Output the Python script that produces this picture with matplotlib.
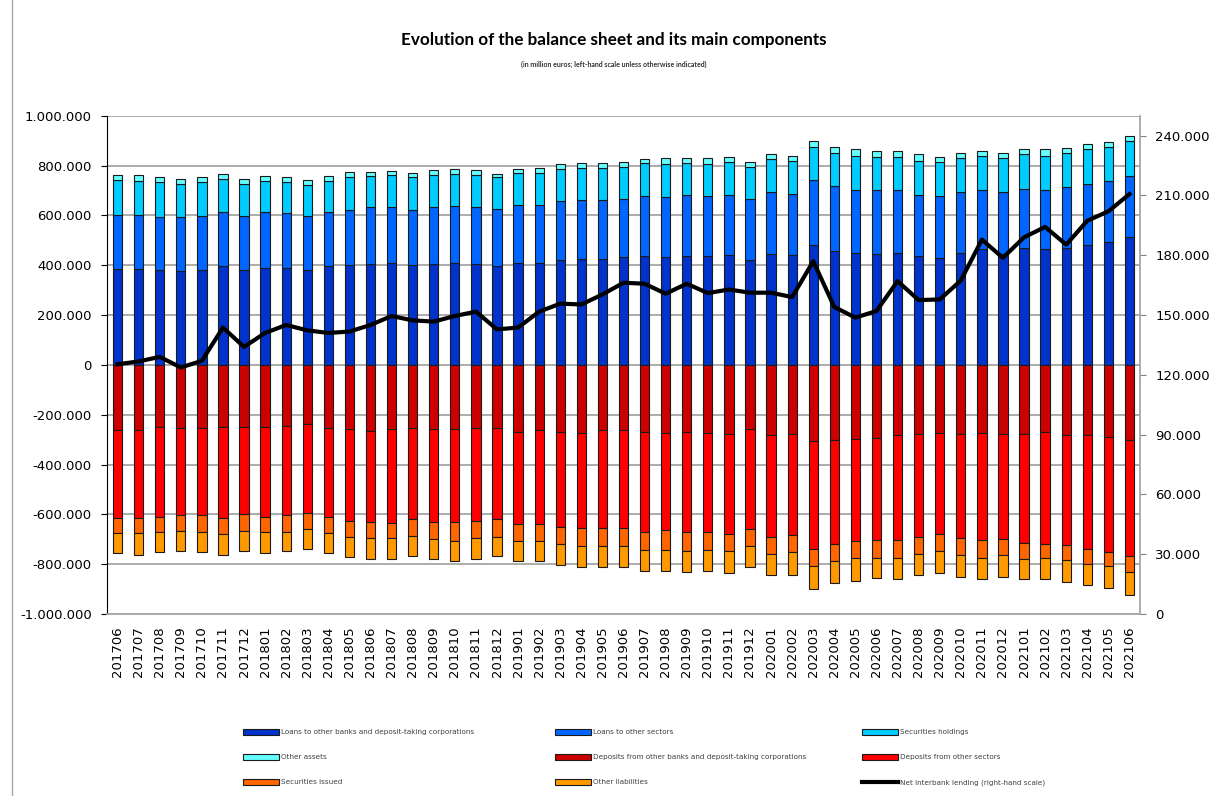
import numpy as np
import matplotlib.pyplot as plt
from matplotlib.lines import Line2D
from matplotlib.ticker import FuncFormatter

# month labels (yyyymm)
periods = [
    "201706", "201707", "201708", "201709", "201710", "201711", "201712",
    "201801", "201802", "201803", "201804", "201805", "201806", "201807",
    "201808", "201809", "201810", "201811", "201812",
    "201901", "201902", "201903", "201904", "201905", "201906", "201907",
    "201908", "201909", "201910", "201911", "201912",
    "202001", "202002", "202003", "202004", "202005", "202006", "202007",
    "202008", "202009", "202010", "202011", "202012",
    "202101", "202102", "202103", "202104", "202105", "202106",
]

# assets, thousand million euros (left-hand scale)
loans_banks = [385, 385, 380, 375, 380, 395, 380, 389, 389, 380, 395, 400, 405, 409,
               400, 405, 409, 405, 395, 409, 409, 420, 425, 425, 431, 435, 431, 435,
               435, 440, 420, 445, 440, 483, 457, 449, 445, 449, 435, 429, 449, 463,
               445, 469, 463, 469, 483, 493, 513]
loans_other = [218, 218, 212, 217, 217, 217, 217, 223, 219, 217, 217, 223, 227, 223,
               223, 227, 228, 227, 232, 234, 234, 237, 238, 238, 236, 242, 241, 248,
               242, 243, 247, 247, 247, 258, 260, 252, 256, 252, 246, 248, 243, 238,
               247, 238, 238, 243, 244, 244, 243]
securities_held = [140, 133, 140, 135, 135, 135, 130, 125, 124, 126, 125, 129, 125, 131,
                   129, 131, 130, 131, 125, 129, 129, 128, 128, 128, 129, 134, 135, 128,
                   130, 133, 128, 133, 133, 135, 134, 139, 135, 135, 139, 138, 137, 139,
                   137, 138, 139, 137, 138, 138, 143]
other_assets = [20, 27, 20, 20, 20, 20, 20, 19, 20, 20, 20, 24, 19, 14,
                20, 20, 20, 20, 15, 13, 19, 20, 18, 18, 20, 14, 22, 18,
                22, 20, 21, 20, 20, 24, 25, 25, 24, 24, 25, 21, 22, 20,
                22, 20, 25, 20, 20, 21, 21]

# liabilities, thousand million euros (plotted below zero)
deposits_banks = [260, 260, 248, 253, 253, 248, 248, 248, 244, 239, 253, 259, 264, 259,
                  253, 259, 259, 253, 253, 268, 263, 268, 273, 263, 263, 268, 273, 268,
                  273, 277, 259, 283, 277, 307, 301, 297, 293, 283, 277, 273, 277, 273,
                  277, 277, 268, 283, 283, 288, 301]
deposits_other = [356, 356, 361, 351, 351, 367, 352, 361, 360, 357, 356, 366, 367, 376,
                  367, 372, 372, 372, 367, 371, 376, 381, 382, 392, 392, 401, 391, 401,
                  396, 400, 401, 406, 407, 432, 418, 412, 411, 421, 412, 406, 418, 431,
                  422, 438, 451, 441, 456, 465, 468]
securities_issued = [59, 59, 60, 61, 67, 64, 65, 60, 65, 64, 66, 64, 64, 60,
                     65, 69, 74, 70, 69, 70, 70, 70, 74, 74, 74, 75, 80, 80,
                     75, 72, 69, 70, 69, 69, 69, 66, 71, 71, 70, 70, 69, 71,
                     65, 64, 56, 60, 60, 55, 64]
other_liabilities = [82, 89, 84, 83, 82, 84, 83, 88, 79, 79, 82, 84, 84, 84,
                     83, 79, 83, 84, 79, 79, 79, 84, 84, 84, 84, 83, 83, 84,
                     83, 88, 83, 84, 90, 93, 89, 92, 82, 86, 84, 88, 88, 86,
                     88, 82, 86, 88, 84, 89, 90]

# net interbank lending, thousand million euros (right-hand scale)
net_interbank = [125.3, 126.7, 129.0, 123.7, 127.0, 143.7, 134.0, 141.0, 145.0, 142.3,
                 141.0, 141.7, 145.0, 149.5, 147.3, 146.7, 149.5, 151.7, 142.8, 143.7,
                 151.7, 155.7, 155.3, 160.3, 166.2, 165.7, 160.7, 165.7, 161.0, 162.8,
                 161.2, 161.2, 159.0, 177.0, 154.0, 148.7, 152.0, 167.0, 157.5, 157.8,
                 167.3, 187.8, 178.7, 189.0, 194.2, 185.3, 197.3, 202.0, 210.7]

asset_series = [
    ("Loans to other banks and deposit-taking corporations", loans_banks, "#0033CC"),
    ("Loans to other sectors", loans_other, "#0066FF"),
    ("Securities holdings", securities_held, "#00CCFF"),
    ("Other assets", other_assets, "#66FFFF"),
]
liab_series = [
    ("Deposits from other banks and deposit-taking corporations", deposits_banks, "#CC0000"),
    ("Deposits from other sectors", deposits_other, "#FF0000"),
    ("Securities issued", securities_issued, "#FF6600"),
    ("Other liabilities", other_liabilities, "#FF9900"),
]


def thousands_fmt(v, pos):
    return f"{v * 1000:,.0f}".replace(",", ".")


fig = plt.figure(figsize=(12.09, 7.96), dpi=100)
ax = fig.add_axes([107 / 1209, 1 - 614 / 796, (1140 - 107) / 1209, (614 - 115.7) / 796])

x = np.arange(len(periods))
width = 0.44
handles = {}

bottom = np.zeros(len(x))
for name, vals, col in asset_series:
    v = np.array(vals, dtype=float)
    handles[name] = ax.bar(x, v, width, bottom=bottom, color=col,
                           edgecolor="#1a1a1a", linewidth=0.8, zorder=3)
    bottom += v

bottom = np.zeros(len(x))
for name, vals, col in liab_series:
    v = np.array(vals, dtype=float)
    handles[name] = ax.bar(x, -v, width, bottom=bottom, color=col,
                           edgecolor="#1a1a1a", linewidth=0.8, zorder=3)
    bottom -= v

ax.set_xlim(-0.5, len(x) - 0.5)
ax.set_ylim(-1000, 1000)
ax.set_yticks(np.arange(-1000, 1001, 200))
ax.yaxis.set_major_formatter(FuncFormatter(thousands_fmt))
ax.yaxis.grid(True, color="#A6A6A6", linewidth=1.3, zorder=0)
ax.set_axisbelow(True)
ax.set_xticks(x)
ax.set_xticklabels(periods, rotation=90, fontsize=9.5)
ax.tick_params(axis="x", length=0, pad=9)
ax.tick_params(axis="y", labelsize=9.5, length=4, pad=7, direction="out")
for s in ("top", "right"):
    ax.spines[s].set_visible(False)
ax.spines["left"].set_color("black")
ax.spines["bottom"].set_color("#A6A6A6")
ax.spines["bottom"].set_linewidth(1.3)

ax2 = ax.twinx()
line, = ax2.plot(x, net_interbank, color="black", linewidth=3, zorder=5)
ax2.set_ylim(0, 250)
ax2.set_yticks(np.arange(0, 241, 30))
ax2.yaxis.set_major_formatter(FuncFormatter(thousands_fmt))
ax2.tick_params(axis="y", labelsize=9.5, length=4, pad=7, direction="out", color="#808080")
for s in ("top", "left", "bottom"):
    ax2.spines[s].set_visible(False)
ax2.spines["right"].set_color("#A6A6A6")
ax2.spines["right"].set_linewidth(1.3)

fig.text(0.508, 1 - 40 / 796, "Evolution of the balance sheet and its main components",
         ha="center", va="center", fontsize=12.3, fontweight="bold", family="Lato")
fig.text(0.508, 1 - 64 / 796, "(in million euros; left-hand scale unless otherwise indicated)",
         ha="center", va="center", fontsize=5, fontweight="bold", family="Lato", color="#333333")

# legend laid out in three columns, filled row by row as in the source chart
line_label = "Net interbank lending (right-hand scale)"
columns = [
    ["Loans to other banks and deposit-taking corporations", "Other assets", "Securities issued"],
    ["Loans to other sectors", "Deposits from other banks and deposit-taking corporations", "Other liabilities"],
    ["Securities holdings", "Deposits from other sectors", line_label],
]
col_x = [243, 555, 862]
for cx, names in zip(col_x, columns):
    hs = [line if n == line_label else handles[n] for n in names]
    leg = fig.legend(hs, names, loc="upper left",
                     bbox_to_anchor=(cx / 1209, 1 - 729 / 796),
                     frameon=False, fontsize=5.2, borderpad=0, borderaxespad=0,
                     handlelength=5.0, handleheight=0.9, handletextpad=0.3,
                     labelspacing=2.55)
    for t in leg.get_texts():
        t.set_color("#404040")

fig.add_artist(Line2D([12 / 1209, 12 / 1209], [0.0, 1.0], color="#A6A6A6", linewidth=1.0))

fig.savefig("out.png", dpi=100)
